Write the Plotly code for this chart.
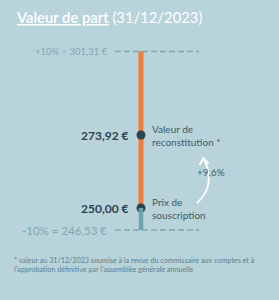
import plotly.graph_objects as go

# ---- data ----
reconstitution_value = 273.92
subscription_price = 250.00
upper_bound = 301.31   # +10 %
lower_bound = 246.53   # -10 %
bound_labels = ["+10%", "-10%"]
point_labels = ["Valeur de<br>reconstitution *", "Prix de<br>souscription"]
title_main = "Valeur de part"
title_date = "(31/12/2023)"
footnote = ("* valeur au 31/12/2023 soumise à la revue du commissaire aux comptes et à<br>"
            "l'approbation définitive par l'assemblée générale annuelle")

W, H = 279, 300
BG = "#b9d3da"
ORANGE = "#ee7d3a"
TEAL = "#6ea2af"
DARK = "#2c4350"
TXT = "#3f5a66"
LIGHT = "#80a7b2"

def fr(v):
    return f"{v:.2f}".replace(".", ",") + " €"

def py(p):  # pixel row -> paper fraction
    return 1 - p / H

X_BAR = 141
BREAK = 208  # pixel row of the axis break (schematic, broken scale)

fig = go.Figure()

# dashed bound lines (upper on main axis, lower on broken lower axis)
fig.add_trace(go.Scatter(x=[115, 199], y=[upper_bound, upper_bound], mode="lines",
                         line=dict(color=LIGHT, width=1.6, dash="6px,3px"),
                         hoverinfo="skip", cliponaxis=False, yaxis="y"))
fig.add_trace(go.Scatter(x=[115, 199], y=[lower_bound, lower_bound], mode="lines",
                         line=dict(color=LIGHT, width=1.6, dash="6px,3px"),
                         hoverinfo="skip", cliponaxis=False, yaxis="y2"))
# bars
fig.add_trace(go.Scatter(x=[X_BAR, X_BAR], y=[lower_bound, subscription_price], mode="lines",
                         line=dict(color=TEAL, width=4.5), hoverinfo="skip",
                         cliponaxis=False, yaxis="y2"))
fig.add_trace(go.Scatter(x=[X_BAR, X_BAR], y=[subscription_price, upper_bound], mode="lines",
                         line=dict(color=ORANGE, width=5), hoverinfo="skip",
                         cliponaxis=False, yaxis="y"))
# dots
fig.add_trace(go.Scatter(x=[X_BAR, X_BAR], y=[reconstitution_value, subscription_price],
                         mode="markers", marker=dict(color=DARK, size=9), hoverinfo="skip",
                         cliponaxis=False, yaxis="y"))

ann = []
# bound labels
ann.append(dict(x=110, y=upper_bound, xref="x", yref="y", xanchor="right", yanchor="middle",
                text=f"{bound_labels[0]} = {fr(upper_bound)}", showarrow=False,
                font=dict(family="Lato", size=9.5, color=LIGHT)))
ann.append(dict(x=109, y=lower_bound, xref="x", yref="y2", xanchor="right", yanchor="middle",
                text=f"{bound_labels[1]} = {fr(lower_bound)}", showarrow=False,
                font=dict(family="Lato", size=11.5, color=LIGHT)))
# value labels
for v, lab in zip([reconstitution_value, subscription_price], point_labels):
    ann.append(dict(x=131, y=v, xref="x", yref="y", xanchor="right", yanchor="middle",
                    text=f"<b>{fr(v)}</b>", showarrow=False,
                    font=dict(family="Lato", size=12, color=DARK)))
    ann.append(dict(x=150, y=v, xref="x", yref="y", xanchor="left", yanchor="middle",
                    text=lab, showarrow=False, align="left",
                    font=dict(family="Lato", size=10, color=TXT)))
# growth label
growth = (reconstitution_value / subscription_price - 1) * 100
ann.append(dict(x=211, y=(reconstitution_value + subscription_price) / 2, xref="x", yref="y",
                xanchor="center", yanchor="middle",
                text=f"+{growth:.1f}%".replace(".", ","), showarrow=False,
                font=dict(family="Lato", size=10, color=TXT)))
# title
ann.append(dict(x=14, y=py(17), xref="x", yref="paper", xanchor="left", yanchor="middle",
                text=f"<span style='font-weight:600'><u>{title_main}</u></span> {title_date}",
                showarrow=False, font=dict(family="Lato", size=14.8, color="white")))
# footnote
ann.append(dict(x=12, y=py(264.5), xref="x", yref="paper", xanchor="left", yanchor="middle",
                text=footnote, showarrow=False, align="left",
                font=dict(family="Lato", size=7.2, color="#5f808b")))

shapes = [
    dict(type="path", xref="x", yref="paper",
         path=f"M 197,{py(203)} Q 216.5,{py(185)} 204,{py(159)}",
         line=dict(color="white", width=1.8)),
    dict(type="path", xref="x", yref="paper",
         path=f"M 199.5,{py(165)} L 203.5,{py(158)} L 208.5,{py(163.5)}",
         line=dict(color="white", width=1.8)),
]

# broken schematic scale: upper part (pixels 0..BREAK), lower part (BREAK..H)
s_up = 3.05    # px per euro in upper part
s_lo = 6.34    # px per euro in lower part
up_range = [subscription_price, subscription_price + BREAK / s_up]
lo_range = [subscription_price - (H - BREAK) / s_lo, subscription_price]

fig.update_layout(
    width=W, height=H, margin=dict(l=0, r=0, t=0, b=0),
    paper_bgcolor=BG, plot_bgcolor=BG, showlegend=False,
    xaxis=dict(range=[0, W], visible=False, fixedrange=True),
    yaxis=dict(range=up_range, domain=[1 - BREAK / H, 1], visible=False, fixedrange=True),
    yaxis2=dict(range=lo_range, domain=[0, 1 - BREAK / H], visible=False, fixedrange=True,
                anchor="x"),
    annotations=ann, shapes=shapes,
)
fig.write_html("out.html")
